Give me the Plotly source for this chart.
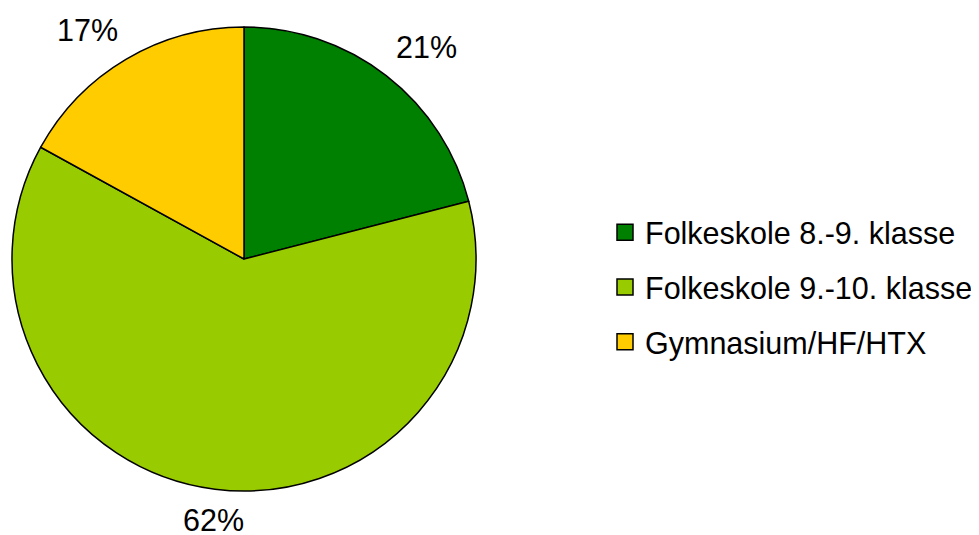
import math
import plotly.graph_objects as go

categories = ["Folkeskole 8.-9. klasse", "Folkeskole 9.-10. klasse", "Gymnasium/HF/HTX"]
shares = [21, 62, 17]
colors = ["#008000", "#99CC00", "#FFCC00"]

W, H = 979, 535
FONT = "Liberation Sans, Arial, sans-serif"
FS = 30.5

# pie geometry in figure pixels (page body adds an 8px offset)
CX, CY, R = 236, 251, 232
LABEL_R = R + 12

fig = go.Figure()
fig.add_trace(go.Pie(
    labels=categories,
    values=shares,
    sort=False,
    direction="clockwise",
    rotation=0,
    marker=dict(colors=colors, line=dict(color="black", width=1.5)),
    textinfo="none",
    showlegend=False,
    hoverinfo="label+percent",
    domain=dict(x=[(CX - R) / W, (CX + R) / W], y=[(H - CY - R) / H, (H - CY + R) / H]),
))

# percentage labels outside the pie, placed at each slice's mid-angle
total = sum(shares)
cum = 0
for v in shares:
    mid = (cum + v / 2) / total * 2 * math.pi
    cum += v
    s, c = math.sin(mid), math.cos(mid)
    px = CX + LABEL_R * s
    py = CY - LABEL_R * c
    xa = "left" if s > 0.3 else ("right" if s < -0.3 else "center")
    ya = "bottom" if c > 0.3 else ("top" if c < -0.3 else "middle")
    fig.add_annotation(
        x=px / W, y=(H - py) / H, xref="paper", yref="paper",
        text=f"{round(100 * v / total)}%", showarrow=False,
        xanchor=xa, yanchor=ya,
        font=dict(family=FONT, size=FS, color="black"),
    )

for name, col in zip(categories, colors):
    fig.add_trace(go.Scatter(
        x=[None], y=[None], mode="markers", name=name,
        legendgroup=name,
        marker=dict(symbol="square", size=18, color=col, line=dict(color="black", width=1.5)),
    ))

fig.update_layout(
    width=W, height=H,
    margin=dict(l=0, r=0, t=0, b=0),
    paper_bgcolor="white", plot_bgcolor="white",
    xaxis=dict(visible=False), yaxis=dict(visible=False),
    showlegend=True,
    legend=dict(
        x=597 / W, xanchor="left", y=(H - 279) / H, yanchor="middle",
        font=dict(family=FONT, size=FS, color="black"),
        tracegroupgap=12, itemclick=False, bgcolor="rgba(0,0,0,0)",
    ),
)

fig.write_html("out.html")
